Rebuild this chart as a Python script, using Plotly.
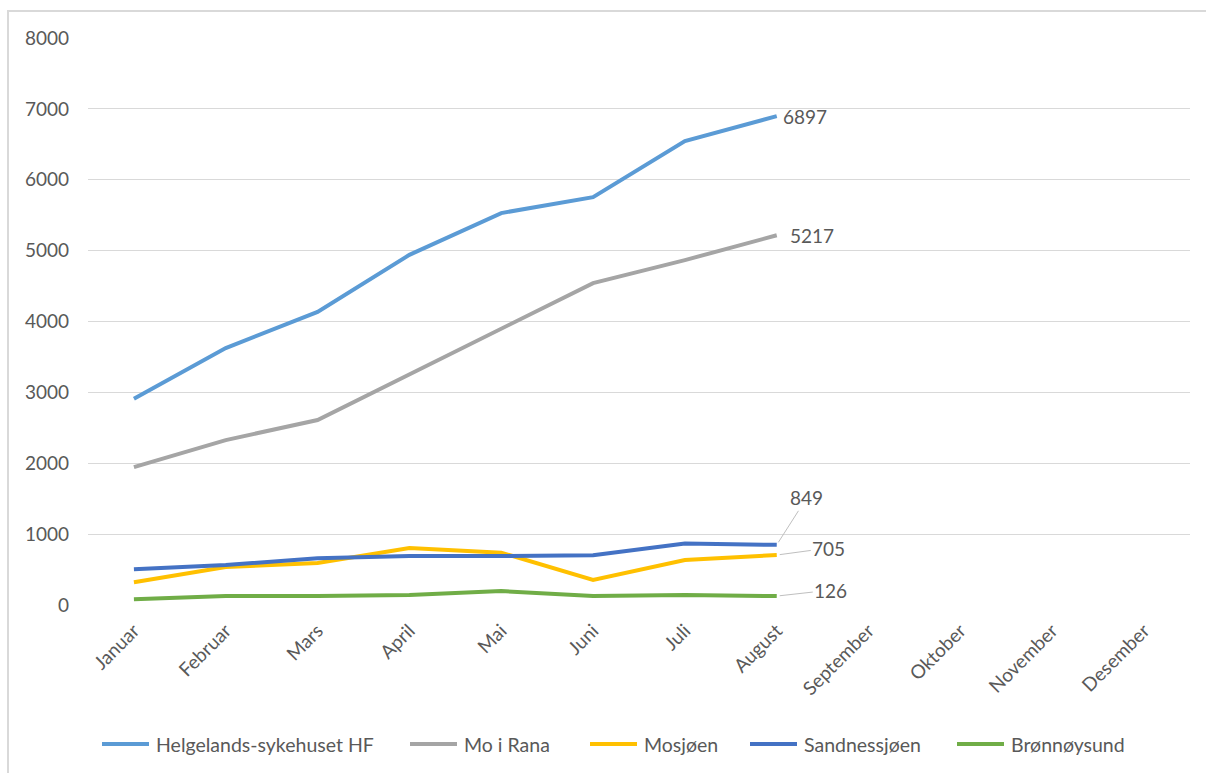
import plotly.graph_objects as go

months = ["Januar", "Februar", "Mars", "April", "Mai", "Juni", "Juli", "August",
          "September", "Oktober", "November", "Desember"]

helgeland = [2910, 3625, 4135, 4940, 5530, 5755, 6545, 6897]
mo_i_rana = [1946, 2327, 2610, 3258, 3907, 4542, 4866, 5217]
mosjoen = [322, 536, 592, 804, 738, 353, 635, 705]
sandnessjoen = [503, 564, 658, 691, 691, 701, 866, 849]
bronnoysund = [80, 127, 127, 141, 197, 127, 141, 126]

series = [
    ("Helgelands-sykehuset HF", helgeland, "#5B9BD5"),
    ("Mo i Rana", mo_i_rana, "#A5A5A5"),
    ("Mosjøen", mosjoen, "#FFC000"),
    ("Sandnessjøen", sandnessjoen, "#4472C4"),
    ("Brønnøysund", bronnoysund, "#70AD47"),
]

FONT = "Lato, 'Open Sans', sans-serif"
TEXT = "#595959"

# Figure geometry (px)
W, H = 1206, 773
L, R, T, B = 88, 16, 38, 168
PW, PH = W - L - R, H - T - B


def px_x(px):
    return (px - L) / PW


def px_y(py):
    return (H - B - py) / PH


fig = go.Figure()
for name, vals, color in series:
    fig.add_trace(go.Scatter(
        x=months[:len(vals)], y=vals, name=name, mode="lines",
        line=dict(color=color, width=4), showlegend=False,
    ))

# End-of-line value labels
last = months[len(helgeland) - 1]
label_specs = [
    (helgeland[-1], dict(showarrow=False, xanchor="left", xshift=4)),
    (mo_i_rana[-1], dict(showarrow=False, xanchor="left", xshift=11)),
    (sandnessjoen[-1], dict(showarrow=True, ax=30, ay=-47, xanchor="center")),
    (mosjoen[-1], dict(showarrow=True, ax=52, ay=-7, xanchor="center")),
    (bronnoysund[-1], dict(showarrow=True, ax=54, ay=-6, xanchor="center")),
]
for val, opts in label_specs:
    extra = {}
    if opts.get("showarrow"):
        extra = dict(arrowhead=0, arrowwidth=1, arrowcolor="#BFBFBF",
                     standoff=3, startstandoff=0)
    fig.add_annotation(x=last, y=val, text=str(val),
                       font=dict(family=FONT, size=19, color=TEXT),
                       **opts, **extra)

# Legend row below the axis: a line swatch followed by the series name
legend_x = [102, 410, 590, 750, 957]
legend_y = 744
shapes = [dict(type="rect", xref="paper", yref="paper",
               x0=px_x(8), x1=px_x(1215), y0=px_y(790), y1=px_y(11),
               line=dict(color="#D9D9D9", width=2), layer="below")]
for (name, _, color), x0 in zip(series, legend_x):
    shapes.append(dict(type="line", xref="paper", yref="paper",
                       x0=px_x(x0), x1=px_x(x0 + 47),
                       y0=px_y(legend_y), y1=px_y(legend_y),
                       line=dict(color=color, width=4)))
    fig.add_annotation(xref="paper", yref="paper", x=px_x(x0 + 52),
                       y=px_y(legend_y), text=name, showarrow=False,
                       xanchor="left", yanchor="middle",
                       font=dict(family=FONT, size=19.5, color=TEXT))

fig.update_layout(
    width=W, height=H,
    margin=dict(l=L, r=R, t=T, b=B),
    paper_bgcolor="white", plot_bgcolor="white",
    font=dict(family=FONT, size=19, color=TEXT),
    showlegend=False,
    xaxis=dict(
        type="category", categoryorder="array", categoryarray=months,
        range=[-0.5, 11.5], tickangle=-45, showgrid=False, showline=False,
        ticks="", tickfont=dict(family=FONT, size=19, color=TEXT),
        ticklabelstandoff=10, zeroline=False, automargin=False,
    ),
    yaxis=dict(
        range=[0, 8000], dtick=1000, showgrid=True, gridcolor="#D9D9D9",
        gridwidth=1, zeroline=False, showline=False, ticks="",
        ticklabelstandoff=18, automargin=False,
        tickfont=dict(family=FONT, size=19, color=TEXT),
    ),
    shapes=shapes,
)

fig.write_html("out.html")
